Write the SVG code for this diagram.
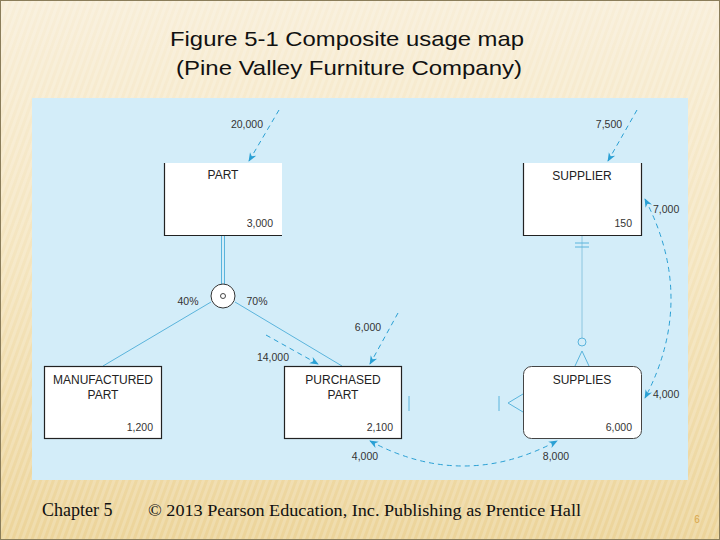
<svg xmlns="http://www.w3.org/2000/svg" width="720" height="540" viewBox="0 0 720 540">
<defs>
<linearGradient id="bg" x1="0" y1="0" x2="0" y2="1">
<stop offset="0" stop-color="#f8eed8"/>
<stop offset="0.5" stop-color="#f4e4bd"/>
<stop offset="1" stop-color="#ecd49a"/>
</linearGradient>
<pattern id="stripes" width="6" height="6" patternUnits="userSpaceOnUse" patternTransform="rotate(20)">
<rect width="3" height="6" fill="#ffffff" opacity="0.18"/>
</pattern>
<marker id="ah" viewBox="0 0 10 10" refX="9" refY="5" markerWidth="9" markerHeight="9" orient="auto-start-reverse" markerUnits="userSpaceOnUse">
<path d="M0,1 L10,5 L0,9 L3,5 Z" fill="#2aa0d4"/>
</marker>
<style>
.lbl{font-family:"Liberation Sans",Arial,sans-serif;font-size:10.5px;fill:#333}
.ttl{font-family:"Liberation Sans",Arial,sans-serif;font-size:12px;fill:#222;text-anchor:middle}
.num{font-family:"Liberation Sans",Arial,sans-serif;font-size:10.5px;fill:#333;text-anchor:end}
.dash{fill:none;stroke:#2aa0d4;stroke-width:1;stroke-dasharray:5,4}
.rel{fill:none;stroke:#5ab4dc;stroke-width:1}
.rel2{fill:none;stroke:#8cc6e0;stroke-width:1}
.box{fill:#ffffff}
.edge{fill:none;stroke:#222;stroke-width:1.2}
</style>
</defs>
<rect x="0" y="0" width="720" height="540" fill="url(#bg)"/>
<rect x="0" y="0" width="720" height="540" fill="url(#stripes)"/>
<rect x="0.5" y="0.5" width="719" height="539" fill="none" stroke="#8a7d5a" stroke-width="1"/>
<text x="347" y="46" text-anchor="middle" font-family="'Liberation Sans',Arial,sans-serif" font-size="21" fill="#111" textLength="354" lengthAdjust="spacingAndGlyphs">Figure 5-1 Composite usage map</text>
<text x="349" y="75" text-anchor="middle" font-family="'Liberation Sans',Arial,sans-serif" font-size="21" fill="#111" textLength="346" lengthAdjust="spacingAndGlyphs">(Pine Valley Furniture Company)</text>
<rect x="32" y="98" width="656" height="382" fill="#d3edf9"/>

<g id="connectors">
<path class="dash" d="M279,110 L249,161" marker-end="url(#ah)"/>
<path class="dash" d="M637,110 L608,161" marker-end="url(#ah)"/>
<path class="dash" d="M398,313 L370,364" marker-end="url(#ah)"/>
<path class="dash" d="M266,335 L318,364" marker-end="url(#ah)"/>
<path class="dash" d="M645,199 Q697,299 645,398" marker-start="url(#ah)" marker-end="url(#ah)"/>
<path class="dash" d="M370,441 Q463,491 557,441" marker-start="url(#ah)" marker-end="url(#ah)"/>
<line class="rel" x1="221.5" y1="235" x2="221.5" y2="285"/>
<line class="rel" x1="224.5" y1="235" x2="224.5" y2="285"/>
<line class="rel" x1="211" y1="302" x2="103" y2="366"/>
<line class="rel" x1="235" y1="302" x2="342" y2="366"/>
<line class="rel2" x1="582" y1="235" x2="582" y2="338"/>
<line class="rel" x1="575" y1="243" x2="589" y2="243"/>
<line class="rel" x1="575" y1="247" x2="589" y2="247"/>
<circle class="rel" cx="582" cy="342" r="4"/>
<path class="rel" d="M575,366 L582,351 L589,366"/>
<line class="rel" x1="409" y1="396" x2="409" y2="411"/>
<line class="rel" x1="499" y1="396" x2="499" y2="411"/>
<path class="rel" d="M523,394 L508,403 L523,412"/>
</g>

<g id="subtype-circle">
<circle cx="223" cy="296" r="12" fill="#ffffff" stroke="#333" stroke-width="1"/>
<circle cx="223" cy="296" r="2.5" fill="none" stroke="#333" stroke-width="0.9"/>
<text class="lbl" x="188" y="305" text-anchor="middle">40%</text>
<text class="lbl" x="257" y="305" text-anchor="middle">70%</text>
</g>

<g id="labels">
<text class="lbl" x="247" y="128" text-anchor="middle">20,000</text>
<text class="lbl" x="609" y="128" text-anchor="middle">7,500</text>
<text class="lbl" x="368" y="331" text-anchor="middle">6,000</text>
<text class="lbl" x="273" y="361" text-anchor="middle">14,000</text>
<text class="lbl" x="653" y="213">7,000</text>
<text class="lbl" x="653" y="398">4,000</text>
<text class="lbl" x="365" y="460" text-anchor="middle">4,000</text>
<text class="lbl" x="556" y="460" text-anchor="middle">8,000</text>
</g>

<g id="part">
<rect class="box" x="164" y="163" width="118" height="72"/>
<path class="edge" d="M164.5,163 L164.5,235.5 L282,235.5"/>
<text class="ttl" x="223" y="179">PART</text>
<text class="num" x="273" y="227">3,000</text>
</g>

<g id="supplier">
<rect class="box" x="523" y="163" width="119" height="72"/>
<path class="edge" d="M523.5,163 L523.5,235.5 L641.5,235.5 L641.5,163"/>
<text class="ttl" x="582" y="180">SUPPLIER</text>
<text class="num" x="632" y="227">150</text>
</g>

<g id="manufactured-part">
<rect class="box edge" x="44.5" y="366.5" width="117" height="72" style="fill:#fff"/>
<text class="ttl" x="103" y="384">MANUFACTURED</text>
<text class="ttl" x="103" y="399">PART</text>
<text class="num" x="153" y="431">1,200</text>
</g>

<g id="purchased-part">
<rect class="box edge" x="284.5" y="366.5" width="117" height="72" style="fill:#fff"/>
<text class="ttl" x="343" y="384">PURCHASED</text>
<text class="ttl" x="343" y="399">PART</text>
<text class="num" x="393" y="431">2,100</text>
</g>

<g id="supplies">
<rect x="523.5" y="366.5" width="118" height="72" rx="8" ry="8" fill="#fff" stroke="#444" stroke-width="1"/>
<text class="ttl" x="582" y="384">SUPPLIES</text>
<text class="num" x="632" y="431">6,000</text>
</g>

<g id="footer">
<text x="42" y="516" font-family="'Liberation Serif','Times New Roman',serif" font-size="18" fill="#111">Chapter 5</text>
<text x="148" y="516" font-family="'Liberation Serif','Times New Roman',serif" font-size="17" fill="#111" textLength="433" lengthAdjust="spacingAndGlyphs">© 2013 Pearson Education, Inc.  Publishing as Prentice Hall</text>
<text x="697" y="523" text-anchor="middle" font-family="'Liberation Sans',Arial,sans-serif" font-size="10" fill="#d9a64a">6</text>
</g>
</svg>
